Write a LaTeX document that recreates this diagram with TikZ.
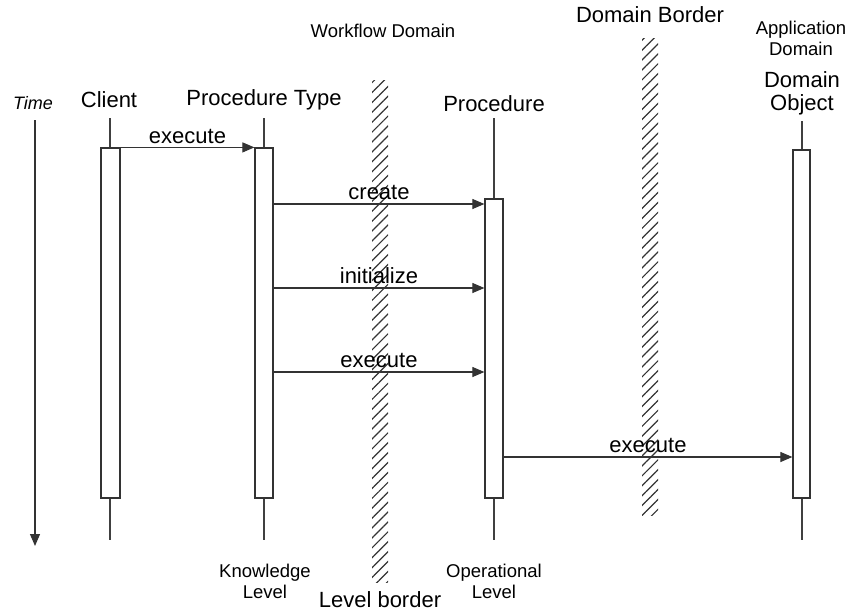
\documentclass[tikz,border=0pt]{standalone}
\usepackage{fontspec}
\setmainfont{Liberation Sans}
\usetikzlibrary{arrows.meta, patterns.meta, positioning}

\begin{document}
\begin{tikzpicture}[
    x=1pt, y=-1pt,
    lbl/.style={font=\fontsize{22}{23}\selectfont, align=center, text=black},
    small/.style={font=\fontsize{18.5}{21}\selectfont, align=center},
    life/.style={line width=1.2pt, black!75},
    act/.style={draw=black!80, fill=white, line width=1.2pt, minimum width=18pt, inner sep=0pt},
    msg/.style={line width=1.1pt, draw=black!80, -{Triangle[length=12pt,width=10pt]}},
    border/.style={pattern={Lines[angle=45,distance=7pt,line width=1.2pt]}, pattern color=black!80, minimum width=16pt, inner sep=0pt}
]
    \useasboundingbox (0,0) rectangle (855,613);

    % domain and level borders
    \node[border, minimum height=502pt] (lvlBorder) at (380,331) {};
    \node[border, minimum height=477pt] (domBorder) at (650,276.5) {};
    \node[small] (wfDomain) at (383,31) {Workflow Domain};
    \node[lbl] (domLabel) at (650,15) {Domain Border};
    \node[small] (appDomain) at (801,38) {Application\\Domain};
    \node[lbl] (lvlLabel) at (380,600) {Level border};
    \node[small] (knowLevel) at (265,581) {Knowledge\\Level};
    \node[small] (operLevel) at (494,581) {Operational\\Level};

    % objects and lifelines
    \node[lbl] (client) at (109,100) {Client};
    \node[lbl] (type) at (264,100) {Procedure Type};
    \node[lbl] (proc) at (494,104) {Procedure};
    \node[lbl] (obj) at (802,93) {Domain\\Object};
    \foreach \n/\x/\t in {client/110/118, type/264/118, proc/494/118, obj/802/121} {
        \coordinate (\n Top) at (\x,\t);
        \coordinate (\n Bot) at (\x,540);
        \draw[life] (\n Top) -- (\n Bot);
    }

    % activations
    \node[act, minimum width=19pt, minimum height=350pt] (clientAct) at (110.5,323) {};
    \node[act, minimum height=350pt] (typeAct) at (264,323) {};
    \node[act, minimum height=299pt] (procAct) at (494,348.5) {};
    \node[act, minimum width=17pt, minimum height=348pt] (objAct) at (801.5,324) {};

    % time axis
    \node[font=\fontsize{18}{21}\selectfont\itshape] (time) at (33,103) {Time};
    \coordinate (timeTop) at (35,120);
    \coordinate (timeBot) at (35,546);
    \draw[msg] (timeTop) -- (timeBot);

    % messages
    \draw[msg] (clientAct.north east) -- node[lbl, above] {execute} (typeAct.north west);
    \foreach \y/\t in {204/create, 288/initialize, 372/execute}
        \draw[msg] (typeAct.east |- 0,\y) -- node[lbl, above] {\t} (procAct.west |- 0,\y);
    \draw[msg] (procAct.east |- 0,457) -- node[lbl, above] {execute} (objAct.west |- 0,457);
\end{tikzpicture}
\end{document}
